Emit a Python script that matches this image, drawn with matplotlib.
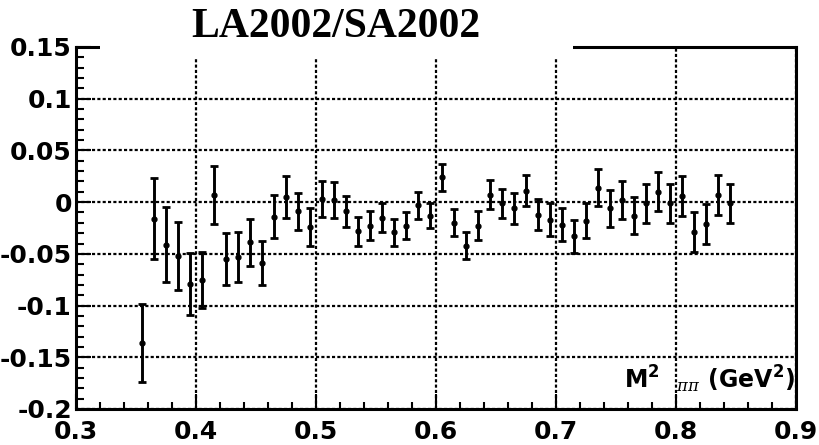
import matplotlib.pyplot as plt
from matplotlib.patches import Rectangle
from matplotlib.ticker import MultipleLocator

# M^2_pipi bin centres, asymmetry ratio and errors
m2 = [0.355, 0.365, 0.375, 0.385, 0.395, 0.405, 0.415, 0.425, 0.435, 0.445,
      0.455, 0.465, 0.475, 0.485, 0.495, 0.505, 0.515, 0.525, 0.535, 0.545,
      0.555, 0.565, 0.575, 0.585, 0.595, 0.605, 0.615, 0.625, 0.635, 0.645,
      0.655, 0.665, 0.675, 0.685, 0.695, 0.705, 0.715, 0.725, 0.735, 0.745,
      0.755, 0.765, 0.775, 0.785, 0.795, 0.805, 0.815, 0.825, 0.835, 0.845]
ratio = [-0.136, -0.016, -0.041, -0.052, -0.079, -0.075, 0.007, -0.055, -0.053, -0.039,
         -0.059, -0.014, 0.005, -0.009, -0.024, 0.003, 0.002, -0.009, -0.028, -0.023,
         -0.015, -0.029, -0.023, -0.003, -0.013, 0.024, -0.020, -0.042, -0.023, 0.007,
         -0.001, -0.006, 0.011, -0.012, -0.017, -0.022, -0.033, -0.018, 0.014, -0.006,
         0.002, -0.013, -0.001, 0.010, -0.001, 0.006, -0.029, -0.021, 0.007, -0.001]
err = [0.038, 0.039, 0.036, 0.033, 0.030, 0.027, 0.028, 0.025, 0.024, 0.023,
       0.021, 0.021, 0.020, 0.018, 0.018, 0.017, 0.017, 0.015, 0.014, 0.014,
       0.014, 0.013, 0.013, 0.013, 0.012, 0.013, 0.013, 0.013, 0.014, 0.014,
       0.014, 0.015, 0.015, 0.015, 0.016, 0.016, 0.016, 0.017, 0.018, 0.018,
       0.018, 0.018, 0.019, 0.019, 0.019, 0.019, 0.019, 0.019, 0.019, 0.019]

plt.rcParams['mathtext.fontset'] = 'custom'
plt.rcParams['mathtext.rm'] = 'DejaVu Sans:bold'
plt.rcParams['mathtext.it'] = 'DejaVu Serif:italic'
plt.rcParams['mathtext.default'] = 'rm'

W, H = 819, 445
fig = plt.figure(figsize=(W / 100, H / 100), dpi=100)
ax = fig.add_axes([76 / W, 1 - 409 / H, 720 / W, 362 / H])

ax.errorbar(m2, ratio, yerr=err, fmt='o', color='k', ms=3.5,
            elinewidth=2.1, capsize=2.8, capthick=2.0)

ax.set_xlim(0.3, 0.9)
ax.set_ylim(-0.2, 0.15)
ax.xaxis.set_major_locator(MultipleLocator(0.1))
ax.xaxis.set_minor_locator(MultipleLocator(0.02))
ax.yaxis.set_major_locator(MultipleLocator(0.05))
ax.yaxis.set_minor_locator(MultipleLocator(0.01))
ax.grid(which='major', color='k', linestyle=(0, (1.4, 1.0)), lw=1.6)
ax.set_axisbelow(True)

for s in ax.spines.values():
    s.set_linewidth(2.2)

ax.tick_params(which='both', direction='in', top=False, right=False, width=1.5)
ax.tick_params(axis='x', which='major', length=11, pad=8)
ax.tick_params(axis='x', which='minor', length=5)
ax.tick_params(axis='y', which='major', length=11, pad=3)
ax.tick_params(axis='y', which='minor', length=5.5)

xt = [0.3, 0.4, 0.5, 0.6, 0.7, 0.8, 0.9]
yt = [-0.2, -0.15, -0.1, -0.05, 0, 0.05, 0.1, 0.15]
ax.set_xticks(xt)
ax.set_xticklabels(['0.3', '0.4', '0.5', '0.6', '0.7', '0.8', '0.9'])
ax.set_yticks(yt)
ax.set_yticklabels(['-0.2', '-0.15', '-0.1', '-0.05', '0', '0.05', '0.1', '0.15'])
for lab in ax.get_xticklabels() + ax.get_yticklabels():
    lab.set_fontfamily('DejaVu Sans')
    lab.set_fontweight('bold')
    lab.set_fontsize(18)

# title pave hides part of the top frame
fig.patches.append(Rectangle((100 / W, 1 - 57 / H), 473 / W, 57 / H,
                             transform=fig.transFigure, facecolor='white',
                             edgecolor='none', zorder=2))
fig.text(336 / W, 1 - 27 / H, 'LA2002/SA2002', ha='center', va='center',
         family='Liberation Serif', weight='bold', fontsize=30, zorder=3)

fig.text(795 / W, 1 - 388 / H, r'M$^{2}$  $_{\mathit{\pi\pi}}$ (GeV$^{2}$)',
         ha='right', va='baseline', family='DejaVu Sans', weight='bold', fontsize=17)

fig.savefig('out.png', dpi=100)
